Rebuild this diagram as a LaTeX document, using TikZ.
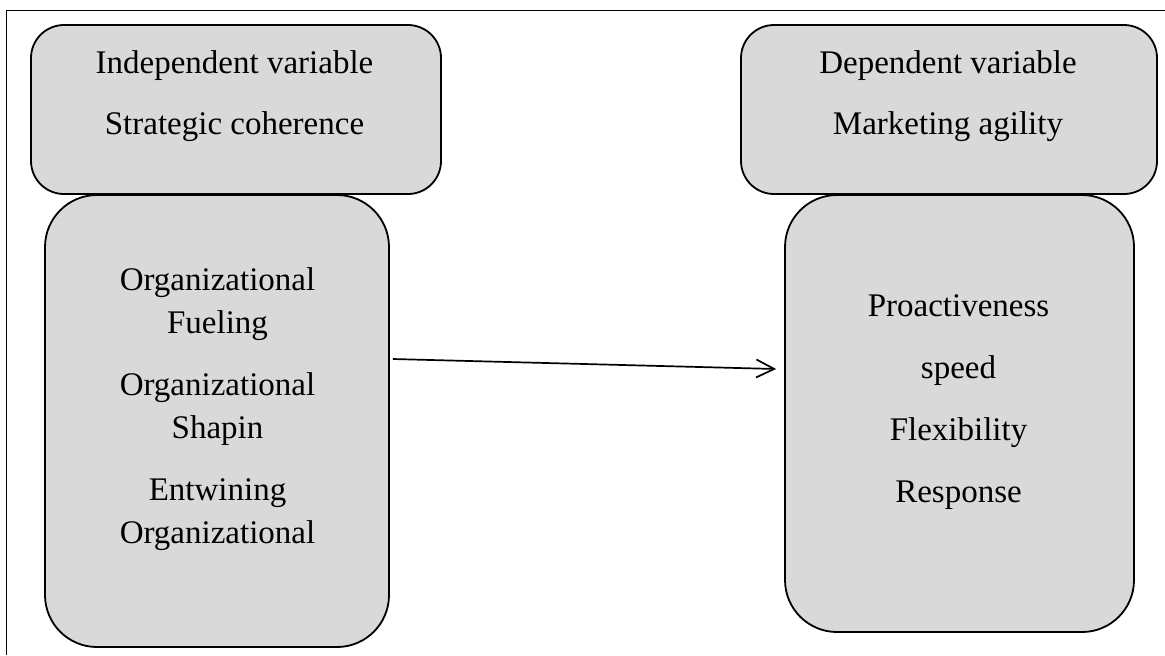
\documentclass[tikz,border=0pt]{standalone}
\usepackage{fontspec}
\setmainfont{Liberation Serif}
\usetikzlibrary{arrows.meta,calc}
\definecolor{boxgray}{HTML}{D9D9D9}

\begin{document}
\begin{tikzpicture}[x=0.5pt,y=-0.5pt,>={Straight Barb[length=9pt,width=9pt]},
    box/.style={draw,fill=boxgray,line width=0.9pt,rounded corners=16.5pt,inner sep=0pt},
    dims/.style={box,rounded corners=26pt},
    txt/.style={align=center,inner sep=0pt,font=\fontsize{16.5}{21.5}\selectfont}]
    \useasboundingbox (0,0) rectangle (1165,655);
    \draw[line width=0.5pt] (6,655) -- (6,10) -- (1165,10);

    \node[box, minimum width=205pt, minimum height=84.5pt] (ivbox) at (236,109.5) {};
    \node[box, minimum width=208pt, minimum height=84.5pt] (dvbox) at (949,109.5) {};
    \node[dims, minimum width=172pt, minimum height=226pt] (ivdims) at (217,421) {};
    \node[dims, minimum width=174.5pt, minimum height=218.5pt] (dvdims) at (959.5,413.5) {};

    \node[txt] (ivtxt) at (234.5,96.5) {Independent variable\\[9pt]Strategic coherence};
    \node[txt] (dvtxt) at (948,96.5) {Dependent variable\\[9pt]Marketing agility};
    \node[txt] (ivdimtxt) at (217.5,409.5) {Organizational\\Fueling\\[9.5pt]Organizational\\Shapin\\[9.5pt]Entwining\\Organizational};
    \node[txt] (dvdimtxt) at (958.5,402.5) {Proactiveness\\[9.5pt]speed\\[9.5pt]Flexibility\\[9.5pt]Response};

    \draw[->, line width=0.85pt] ($(ivdims.east)+(3,-62)$) -- ($(dvdims.west)+(-8,-44.5)$);
\end{tikzpicture}
\end{document}
